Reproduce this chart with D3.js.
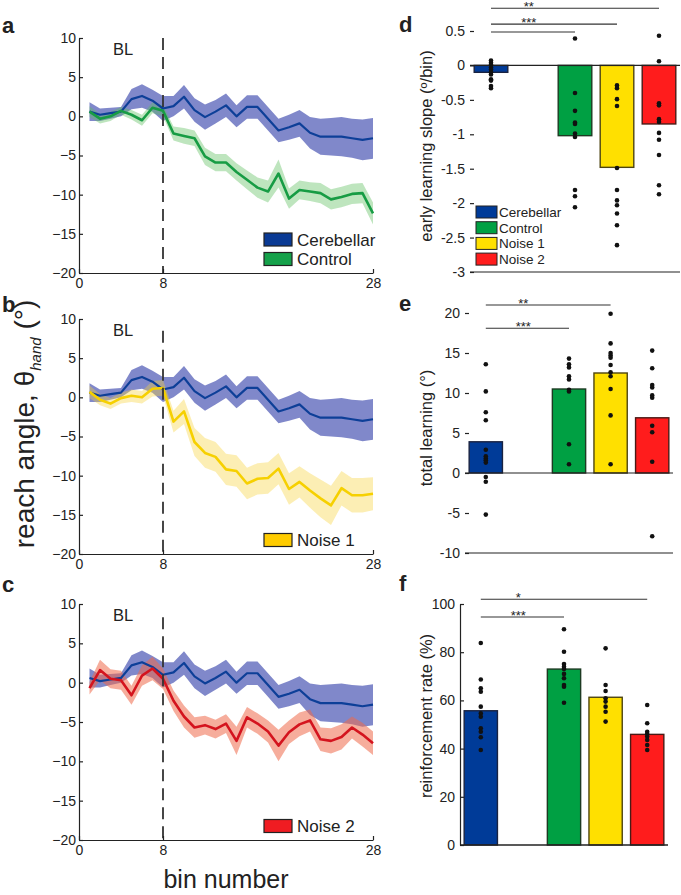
<!DOCTYPE html>
<html><head><meta charset="utf-8">
<script src="https://cdn.jsdelivr.net/npm/d3@7"></script>
<style>
body{margin:0;background:#fff}
text{font-family:"Liberation Sans",Arial,Helvetica,sans-serif;fill:#222}
</style>
</head><body>
<svg id="fig" width="681" height="895"></svg>
<script>
// ---------------- DATA ----------------
const bins = [1,2,3,4,5,6,7,8,9,10,11,12,13,14,15,16,17,18,19,20,21,22,23,24,25,26,27,28];
const cerebellarMean = [0.6,0.2,0.4,0.6,2.2,2.6,2.0,1.0,1.3,2.5,0.8,-0.1,0.6,1.4,0.0,1.2,1.2,-0.3,-1.8,-1.4,-0.9,-2.1,-2.6,-2.6,-2.6,-2.8,-3.0,-2.8];
const cerebellarSem  = [1.2,0.8,0.7,0.6,1.3,1.5,1.4,1.6,1.3,1.5,1.5,1.6,1.5,1.5,1.4,1.5,1.5,1.5,1.5,1.6,1.7,2.0,2.3,2.4,2.5,2.5,2.6,2.6];
const controlMean = [0.6,-0.3,0.0,0.7,0.2,-0.5,1.1,0.7,-2.2,-2.5,-2.8,-5.1,-5.9,-5.9,-7.1,-8.1,-9.1,-9.6,-7.3,-10.5,-9.4,-9.6,-9.8,-10.6,-10.3,-9.9,-9.8,-12.4];
const controlSem  = [0.7,0.6,0.6,0.5,0.6,0.7,0.7,0.7,0.9,1.0,1.0,1.1,1.1,1.1,1.1,1.2,1.3,1.4,1.8,1.3,1.2,1.2,1.3,1.3,1.3,1.3,1.3,1.4];
const noise1Mean = [0.7,-0.3,-0.8,-0.1,0.2,0.0,1.1,1.2,-3.1,-1.8,-5.7,-7.1,-7.6,-9.2,-9.4,-11.0,-10.4,-10.3,-9.1,-11.7,-10.8,-11.9,-12.9,-13.8,-11.6,-12.5,-12.5,-12.3];
const noise1Sem  = [0.8,0.7,0.7,0.7,0.8,0.8,1.0,1.0,1.4,1.6,1.8,1.9,1.9,2.0,2.0,2.0,2.0,2.0,2.0,2.0,2.0,2.2,2.4,2.5,2.2,2.2,2.2,2.1];
const noise2Mean = [-0.7,1.6,0.5,0.3,-1.6,0.9,1.8,0.5,-2.3,-4.3,-5.7,-5.4,-5.9,-5.2,-7.4,-4.4,-5.2,-6.2,-8.0,-6.3,-5.3,-4.8,-7.2,-7.4,-6.9,-5.7,-6.6,-7.7];
const noise2Sem  = [0.8,1.3,1.2,1.2,1.2,1.3,1.5,1.3,1.3,1.4,1.3,1.2,1.2,1.2,1.8,1.3,1.3,1.4,2.0,1.5,1.5,1.4,1.5,1.6,1.6,1.4,1.5,1.5];

const lineTicksX = [0, 8, 28];
const lineTicksY = [10, 5, 0, -5, -10, -15, -20];
const baselineEnd = 8;

const groups = ["Cerebellar", "Control", "Noise 1", "Noise 2"];
const groupPos = [1, 3, 4, 5];

const slopeMeans = [-0.1, -1.02, -1.48, -0.85];
const slopeDots = [
  [0.07,0.04,0.01,-0.03,-0.06,-0.1,-0.13,-0.2,-0.22,-0.3,-0.33],
  [0.39,-0.40,-0.66,-0.83,-0.85,-0.99,-1.04,-1.81,-1.90,-2.06],
  [-0.29,-0.33,-0.49,-0.59,-1.49,-1.81,-1.96,-2.03,-2.15,-2.32,-2.61],
  [0.43,0.06,-0.55,-0.58,-0.78,-0.82,-0.98,-1.08,-1.30,-1.74,-1.87]
];
const slopeTicks = [0.5, 0, -0.5, -1, -1.5, -2, -2.5, -3];
const slopeSig = [
  {from: 1, to: 5, y: 0.83, label: "**"},
  {from: 1, to: 4, y: 0.60, label: "***"},
  {from: 1, to: 3, y: 0.485, label: ""}
];

const totalMeans = [3.9, 10.5, 12.5, 6.9];
const totalDots = [
  [13.6,10.2,7.6,6.6,2.9,2.1,1.8,1.6,1.3,-0.5,-1.1,-5.2],
  [14.3,13.6,13.2,12.1,11.7,10.4,10.2,3.6,1.1],
  [19.9,16.2,15.0,14.7,14.4,13.5,12.6,12.1,10.5,7.2,1.1],
  [15.3,13.1,11.0,10.7,9.7,9.4,5.9,5.1,1.4,-7.9]
];
const totalTicks = [20, 15, 10, 5, 0, -5, -10];
const totalSig = [
  {from: 1, to: 4, y: 21.0, label: "**"},
  {from: 1, to: 3, y: 18.1, label: "***"}
];

const reinfMeans = [55.7, 73.0, 61.3, 45.9];
const reinfDots = [
  [83.8,68.7,65.0,63.6,57.4,54.6,53.2,48.4,47.0,44.7,39.4],
  [89.5,80.2,75.1,74.0,73.0,71.0,69.2,66.4,65.7,59.0],
  [81.6,66.4,63.9,60.9,59.5,57.4,55.3,51.2],
  [58.1,50.5,47.0,46.1,45.0,43.6,41.5,39.4]
];
const reinfTicks = [0, 20, 40, 60, 80, 100];
const reinfSig = [
  {from: 1, to: 5, y: 102, label: "*"},
  {from: 1, to: 3, y: 94.6, label: "***"}
];

// ---------------- STYLE ----------------
const groupFill = ["#003b98", "#00a043", "#ffe000", "#ff1c1c"];
const groupEdge = ["#1a2340", "#1d3a22", "#4e4510", "#4a1a16"];
const axisColor = "#222";

const svg = d3.select("#fig");

function styleAxis(sel, fs){
  sel.selectAll("path.domain").attr("stroke", axisColor).attr("stroke-width", 1.2);
  sel.selectAll(".tick line").attr("stroke", axisColor).attr("stroke-width", 1.2);
  sel.selectAll(".tick text").attr("font-size", fs).attr("fill", "#222")
    .attr("font-family", '"Liberation Sans",Arial,Helvetica,sans-serif');
}

// ---------------- LINE PANELS ----------------
const linePanels = [
  {letter: "a", letterY: 33, top: 38, bottom: 273, dashTop: 10,
   other: controlMean, otherSem: controlSem, line: "#179c44", band: "#5cbf5c", bandOp: 0.4,
   legend: [{label: "Cerebellar", fill: "#0a3a94"}, {label: "Control", fill: "#15a14a"}]},
  {letter: "b", letterY: 312, top: 319, bottom: 554, dashTop: 8.5,
   other: noise1Mean, otherSem: noise1Sem, line: "#f6d000", band: "#f7d23a", bandOp: 0.38,
   legend: [{label: "Noise 1", fill: "#ffcc00"}]},
  {letter: "c", letterY: 592, top: 604, bottom: 840, dashTop: 8.3,
   other: noise2Mean, otherSem: noise2Sem, line: "#d4141e", band: "#ee6a4a", bandOp: 0.55,
   legend: [{label: "Noise 2", fill: "#f01c22"}]}
];

linePanels.forEach(p => {
  const x = d3.scaleLinear().domain([0, 28]).range([79, 373]);
  const y = d3.scaleLinear().domain([-20, 10]).range([p.bottom, p.top]);
  const g = svg.append("g");

  const area = (m, s) => d3.area()
    .x((d, i) => x(bins[i])).y0((d, i) => y(m[i] - s[i])).y1((d, i) => y(m[i] + s[i]))(bins);
  const line = m => d3.line().x((d, i) => x(bins[i])).y((d, i) => y(m[i]))(bins);

  g.append("path").attr("d", area(cerebellarMean, cerebellarSem)).attr("fill", "#4a56b3").attr("fill-opacity", 0.7);
  g.append("path").attr("d", area(p.other, p.otherSem)).attr("fill", p.band).attr("fill-opacity", p.bandOp);
  g.append("path").attr("d", line(cerebellarMean)).attr("fill", "none").attr("stroke", "#0d3f98").attr("stroke-width", 2.2).attr("stroke-linejoin", "round");
  g.append("path").attr("d", line(p.other)).attr("fill", "none").attr("stroke", p.line).attr("stroke-width", 2.6).attr("stroke-linejoin", "round");

  // dashed baseline boundary
  g.append("line").attr("x1", x(baselineEnd)).attr("x2", x(baselineEnd))
    .attr("y1", y(p.dashTop)).attr("y2", y(-20))
    .attr("stroke", "#333").attr("stroke-width", 1.8).attr("stroke-dasharray", "12,7");

  const ya = g.append("g").attr("transform", "translate(79,0)")
    .call(d3.axisLeft(y).tickValues(lineTicksY).tickSize(-4).tickSizeOuter(0).tickPadding(3));
  styleAxis(ya, 14);
  const xa = g.append("g").attr("transform", `translate(0,${p.bottom})`)
    .call(d3.axisBottom(x).tickValues(lineTicksX).tickSize(-4).tickSizeOuter(0).tickPadding(5));
  styleAxis(xa, 14);

  g.append("text").attr("x", 113).attr("y", p.top + 17).attr("font-size", 16.5).text("BL");

  // legend
  const n = p.legend.length;
  p.legend.forEach((e, i) => {
    const cy = p.bottom - 14 - (n - 1 - i) * 19.5;
    g.append("rect").attr("x", 264).attr("y", cy - 6.5).attr("width", 28).attr("height", 13)
      .attr("fill", e.fill).attr("stroke", "#222").attr("stroke-width", 1.2);
    g.append("text").attr("x", 297).attr("y", cy + 6).attr("font-size", 17).text(e.label);
  });

  svg.append("text").attr("x", 2).attr("y", p.letterY).attr("font-size", 22).attr("font-weight", "bold").text(p.letter);
});

// big shared labels
const yl = svg.append("text").attr("transform", "translate(34,424) rotate(-90)")
  .attr("text-anchor", "middle").attr("font-size", 28);
yl.append("tspan").text("reach angle, θ");
yl.append("tspan").attr("font-size", 15).attr("font-style", "italic").attr("dy", 7).text("hand");
yl.append("tspan").attr("dy", -7).text(" (°)");

svg.append("text").attr("x", 226).attr("y", 888).attr("text-anchor", "middle").attr("font-size", 25).text("bin number");

// ---------------- BAR PANELS ----------------
const barPanels = [
  {letter: "d", letterY: 32, left: 470, right: 680, top: 31, bottom: 272, domain: [-3, 0.5],
   means: slopeMeans, dots: slopeDots, ticks: slopeTicks, sig: slopeSig, yAxisLine: false,
   label: "early learning slope (º/bin)", labelY: 146, legend: true},
  {letter: "e", letterY: 311, left: 465, right: 673, top: 313, bottom: 553, domain: [-10, 20],
   means: totalMeans, dots: totalDots, ticks: totalTicks, sig: totalSig, yAxisLine: false,
   label: "total learning (°)", labelY: 428, legend: false},
  {letter: "f", letterY: 591, left: 460, right: 668, top: 604, bottom: 845, domain: [0, 100],
   means: reinfMeans, dots: reinfDots, ticks: reinfTicks, sig: reinfSig, yAxisLine: true,
   label: "reinforcement rate (%)", labelY: 716, legend: false}
];

barPanels.forEach(p => {
  const x = d3.scaleLinear().domain([0.5, 5.5]).range([p.left, p.right]);
  const y = d3.scaleLinear().domain(p.domain).range([p.bottom, p.top]);
  const g = svg.append("g");
  const bw = x(1.4) - x(0.6);

  // bars
  g.selectAll("rect.bar").data(p.means).join("rect").attr("class", "bar")
    .attr("x", (d, i) => x(groupPos[i]) - bw / 2)
    .attr("width", bw)
    .attr("y", d => y(Math.max(0, d)))
    .attr("height", d => Math.abs(y(d) - y(0)))
    .attr("fill", (d, i) => groupFill[i])
    .attr("stroke", (d, i) => groupEdge[i]).attr("stroke-width", 1.4);

  // zero line and bottom axis
  g.append("line").attr("x1", p.left).attr("x2", p.right).attr("y1", y(0)).attr("y2", y(0))
    .attr("stroke", axisColor).attr("stroke-width", 1.2);
  g.append("line").attr("x1", p.left).attr("x2", p.right).attr("y1", y(p.domain[0])).attr("y2", y(p.domain[0]))
    .attr("stroke", axisColor).attr("stroke-width", 1.2);

  // dots
  p.dots.forEach((arr, i) => {
    g.selectAll(null).data(arr).join("circle")
      .attr("cx", x(groupPos[i])).attr("cy", d => y(d)).attr("r", 2.3).attr("fill", "#111");
  });

  // y axis
  const ya = g.append("g").attr("transform", `translate(${p.left},0)`)
    .call(d3.axisLeft(y).tickValues(p.ticks).tickSize(-4).tickSizeOuter(0).tickPadding(5)
      .tickFormat(d => String(d).replace("-", "-")));
  styleAxis(ya, 14);
  if (!p.yAxisLine) ya.select("path.domain").remove();

  // significance brackets
  p.sig.forEach(s => {
    g.append("line").attr("x1", x(s.from)).attr("x2", x(s.to)).attr("y1", y(s.y)).attr("y2", y(s.y))
      .attr("stroke", "#333").attr("stroke-width", 1.1);
    if (s.label) g.append("text").attr("x", x(1.9)).attr("y", y(s.y) + 3).attr("text-anchor", "middle")
      .attr("font-size", 13).text(s.label);
  });

  // y label
  g.append("text").attr("transform", `translate(432,${p.labelY}) rotate(-90)`)
    .attr("text-anchor", "middle").attr("font-size", 16.5).text(p.label);

  // legend
  if (p.legend) {
    groups.forEach((name, i) => {
      const cy = 212 + i * 15.7;
      g.append("rect").attr("x", 476).attr("y", cy - 6).attr("width", 21).attr("height", 12)
        .attr("fill", groupFill[i]).attr("stroke", "#222").attr("stroke-width", 1);
      g.append("text").attr("x", 499).attr("y", cy + 4.8).attr("font-size", 13.5).text(name);
    });
  }

  svg.append("text").attr("x", 399).attr("y", p.letterY).attr("font-size", 22).attr("font-weight", "bold").text(p.letter);
});
</script>
</body></html>
